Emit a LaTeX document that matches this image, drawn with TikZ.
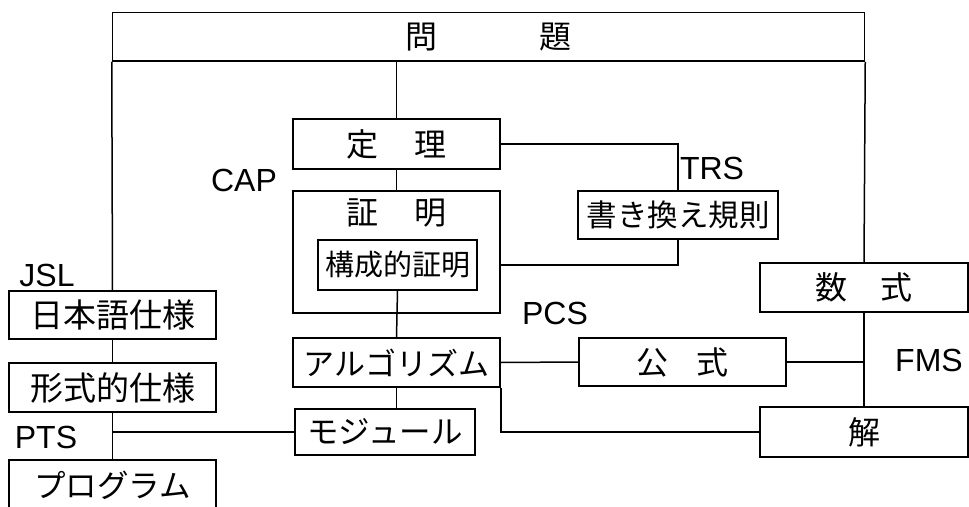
\documentclass[tikz,border=0pt]{standalone}
\usepackage{fontspec}
\setmainfont{Liberation Sans}
\newfontfamily\jfont{Noto Sans CJK JP}
\usepackage{tikz}
\usetikzlibrary{calc}

\begin{document}
\begin{tikzpicture}[x=1pt,y=-1pt,
    box/.style={draw, line width=1.5pt, inner sep=0pt},
    tag/.style={font=\fontsize{32}{32}\selectfont},
    link/.style={line width=1.5pt}]
\useasboundingbox (0,0) rectangle (969,506);
% boxes: name/text/x/y/width/height/font size (pixel units)
\foreach \name/\txt/\x/\y/\w/\h/\fs in {
    problem/問\hspace{102pt}題/488.5/36.75/752/48.5/32,
    theorem/定\hspace{37pt}理/396.5/144/207/50/32,
    proof//396.5/252/207/122/32,
    constructive/構成的証明/397.5/265/159/50/29,
    rewrite/書き換え規則/678/215/200/48/30.5,
    algorithm/アルゴリズム/396.5/362.5/207/49/31,
    module/モジュール/385/432/180/46/31.5,
    formula/公\hspace{29pt}式/682.5/362/207/48/32,
    expression/数\hspace{34pt}式/864/287.5/208/49/32,
    solution/解/864/432/208/50/32,
    jp/日本語仕様/112.5/315/207/48/33,
    formal/形式的仕様/112.5/387.5/207/49/33,
    program/プログラム/112.5/485/207/50/31.5
  } {
    \node[box, minimum width=\w pt, minimum height=\h pt,
      font=\jfont\fontsize{\fs}{\fs}\selectfont] (\name) at (\x,\y) {\txt};
  }
\node[font=\jfont\fontsize{32}{32}\selectfont] (prooftxt) at (396.5,213) {証\hspace{37pt}明};

% system labels
\node[tag] (cap) at (244,180) {CAP};
\node[tag] (trs) at (712,168) {TRS};
\node[tag] (jsl) at (47,275) {JSL};
\node[tag] (pts) at (46,437) {PTS};
\node[tag] (pcs) at (555,313) {PCS};
\node[tag] (fms) at (929,360) {FMS};

% connectors
\draw[link] (problem.south west) -- (jp.north);
\draw[link] (problem.south east) -- (expression.north);
\draw[link] (theorem.north) -- (theorem.north |- problem.south);
\draw[link] (theorem.south) -- (proof.north);
\draw[link] (constructive.south) -- (algorithm.north);
\draw[link] (theorem.east) -| (rewrite.north);
\draw[link] (rewrite.south) |- (proof.east |- constructive.center);
\draw[link] (algorithm.east) -- (formula.west);
\draw[link] (expression.south) -- (solution.north);
\draw[link] (formula.east) -- (formula.east -| solution.north);
\draw[link] (algorithm.south east) |- (solution.west);
\draw[link] (algorithm.south) -- (algorithm.south |- module.north);
\draw[link] (jp.south) -- (formal.north);
\draw[link] (formal.south) -- (program.north);
\draw[link] (module.west) -- (module.west -| formal.south);
\end{tikzpicture}
\end{document}
